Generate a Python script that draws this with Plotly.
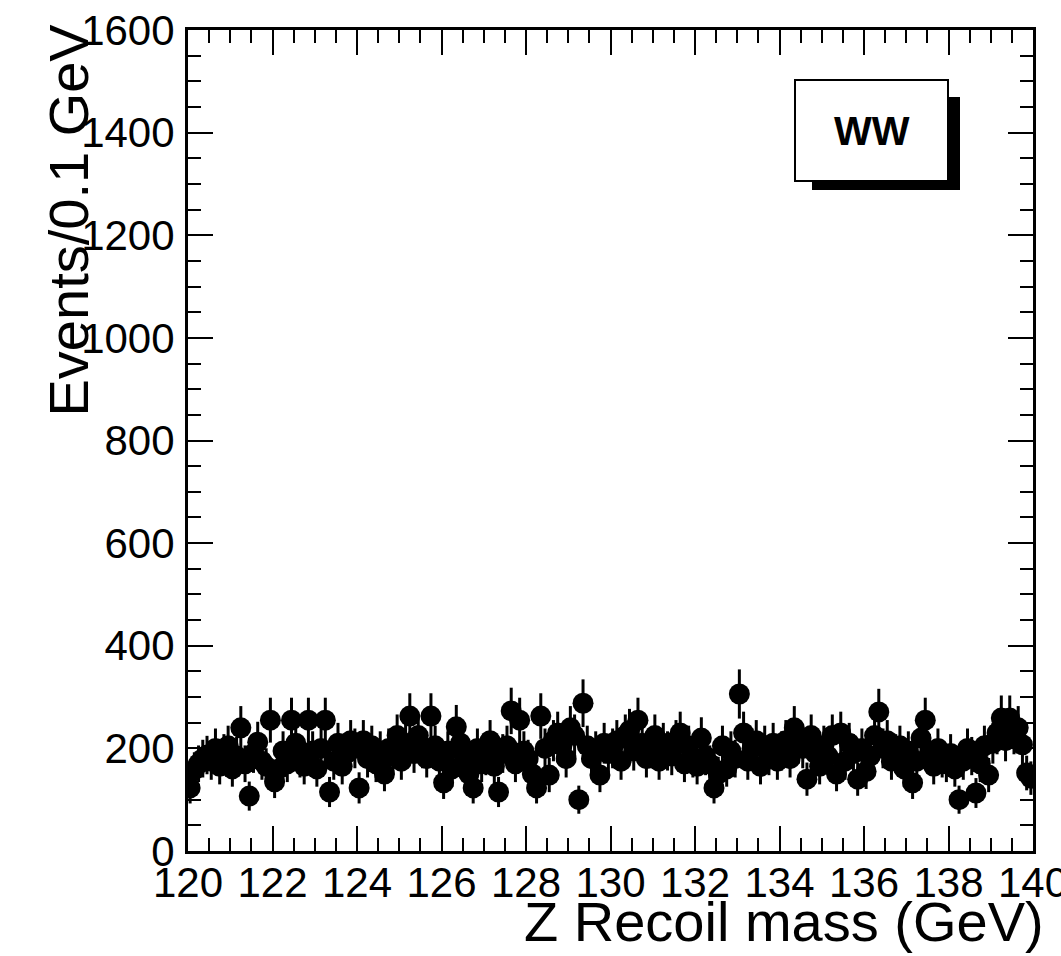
import numpy as np
import plotly.graph_objects as go

# Z recoil mass histogram, 0.1 GeV bins from 120 to 140 GeV (WW sample)
bin_lo = 120.0
bin_width = 0.1
counts = [
    123, 158, 170, 180, 187, 175, 200, 165, 190, 205,
    160, 185, 240, 170, 107, 190, 212, 175, 165, 255,
    135, 160, 195, 170, 255, 210, 180, 165, 255, 195,
    160, 200, 255, 115, 175, 210, 165, 190, 215, 200,
    123, 215, 180, 205, 170, 195, 150, 200, 185, 225,
    175, 210, 263, 190, 225, 200, 180, 263, 205, 175,
    133, 195, 160, 242, 210, 180, 150, 123, 200, 170,
    185, 215, 165, 115, 190, 205, 273, 170, 255, 195,
    180, 150, 123, 263, 200, 148, 215, 230, 205, 180,
    240, 225, 100, 288, 205, 180, 195, 148, 210, 190,
    200, 215, 175, 225, 235, 195, 255, 210, 180, 200,
    225, 175, 210, 195, 185, 215, 230, 170, 205, 180,
    165, 220, 185, 170, 123, 150, 205, 160, 195, 180,
    306, 230, 175, 200, 215, 165, 205, 185, 210, 175,
    195, 215, 180, 240, 210, 200, 140, 225, 190, 165,
    205, 185, 225, 150, 230, 175, 210, 190, 140, 200,
    155, 185, 225, 271, 200, 215, 175, 190, 205, 160,
    195, 133, 175, 220, 255, 190, 165, 200, 180, 170,
    190, 160, 100, 175, 200, 185, 113, 170, 205, 148,
    210, 230, 259, 215, 259, 230, 240, 207, 152, 142,
]
event_weight = 7.5
legend_label = "WW"
x_title = "Z Recoil mass (GeV)"
y_title = "Events/0.1 GeV"

counts = np.array(counts, dtype=float)
centers = bin_lo + bin_width * (np.arange(len(counts)) + 0.5)
errors = np.sqrt(event_weight * counts)

FONT = "Liberation Sans, Arial, Helvetica, sans-serif"

fig = go.Figure()
fig.add_trace(go.Scatter(
    x=centers, y=counts, mode="markers",
    marker=dict(color="black", size=21, symbol="circle"),
    error_y=dict(type="data", array=errors, visible=True,
                 color="black", thickness=3, width=0),
    showlegend=False, cliponaxis=True,
))
# invisible trace carrying the mirrored top/right axes
fig.add_trace(go.Scatter(x=[120], y=[0], xaxis="x2", yaxis="y2",
                         mode="markers", marker=dict(opacity=0),
                         showlegend=False, hoverinfo="skip"))

axis_common = dict(
    showgrid=False, zeroline=False, showline=True, linecolor="black",
    linewidth=3, ticks="inside", tickcolor="black", tickwidth=2,
    automargin=False, ticklabeloverflow="allow",
)

fig.update_layout(
    width=1061, height=956,
    margin=dict(l=188, r=28, t=30, b=105),
    paper_bgcolor="white", plot_bgcolor="white",
    font=dict(family=FONT, color="black", size=42),
    xaxis=dict(range=[120, 140], dtick=2, tick0=120, ticklen=25,
               minor=dict(dtick=0.5, tick0=120, ticklen=13, ticks="inside",
                          tickcolor="black", tickwidth=2),
               tickfont=dict(size=42), ticklabelstandoff=-7,
               **axis_common),
    yaxis=dict(range=[0, 1600], dtick=200, tick0=0, ticklen=25,
               minor=dict(dtick=50, tick0=0, ticklen=13, ticks="inside",
                          tickcolor="black", tickwidth=2),
               tickfont=dict(size=42), ticklabelstandoff=2,
               **axis_common),
    xaxis2=dict(range=[120, 140], dtick=2, tick0=120, ticklen=25,
                overlaying="x", side="top", showticklabels=False,
                minor=dict(dtick=0.5, tick0=120, ticklen=13, ticks="inside",
                           tickcolor="black", tickwidth=2),
                **axis_common),
    yaxis2=dict(range=[0, 1600], dtick=200, tick0=0, ticklen=25,
                overlaying="y", side="right", showticklabels=False,
                minor=dict(dtick=50, tick0=0, ticklen=13, ticks="inside",
                           tickcolor="black", tickwidth=2),
                **axis_common),
)

# axis titles, right/top aligned as in ROOT
fig.add_annotation(text=x_title, xref="paper", yref="paper",
                   x=1.0 + 13 / 845, y=(851 - 922) / 821,
                   xanchor="right", yanchor="middle",
                   showarrow=False, font=dict(size=56, family=FONT))
fig.add_annotation(text=y_title, xref="paper", yref="paper",
                   x=-120 / 845, y=1.0 + 8 / 821, xanchor="center", yanchor="top",
                   textangle=-90, showarrow=False,
                   font=dict(size=56, family=FONT))

# legend box with drop shadow
fig.add_shape(type="rect", xref="paper", yref="paper",
              x0=(812 - 188) / 845, x1=(960 - 188) / 845,
              y0=(851 - 190) / 821, y1=(851 - 97) / 821,
              fillcolor="black", line=dict(width=0), layer="above")
fig.add_shape(type="rect", xref="paper", yref="paper",
              x0=(795 - 188) / 845, x1=(948 - 188) / 845,
              y0=(851 - 181) / 821, y1=(851 - 80) / 821,
              fillcolor="white", line=dict(color="black", width=2), layer="above")
fig.add_annotation(text="<b>%s</b>" % legend_label, xref="paper", yref="paper",
                   x=(871.5 - 188) / 845, y=(851 - 131) / 821,
                   xanchor="center", yanchor="middle", showarrow=False,
                   font=dict(size=40, family=FONT))

fig.write_html("out.html")
